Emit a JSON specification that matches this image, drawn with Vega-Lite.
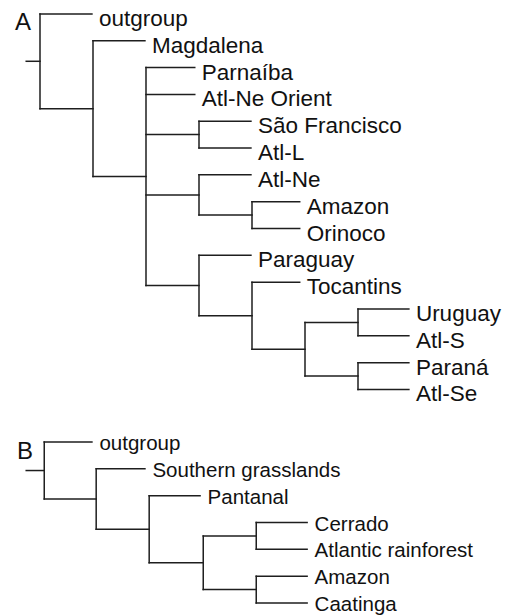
{
  "$schema": "https://vega.github.io/schema/vega-lite/v6.json",
  "width": 511,
  "height": 616,
  "autosize": {"type": "fit", "contains": "padding"},
  "padding": 0,
  "background": "white",
  "config": {"view": {"stroke": null}, "axis": {"domain": false, "grid": false, "ticks": false, "labels": false, "title": null}},
  "datasets": {
    "branches": [
      {"tree": "A", "x": -0.26, "x2": 0, "y": 1.766, "y2": 1.766},
      {"tree": "A", "x": 0, "x2": 0.98, "y": 0, "y2": 0},
      {"tree": "A", "x": 0, "x2": 1, "y": 3.531, "y2": 3.531},
      {"tree": "A", "x": 1, "x2": 1.98, "y": 1, "y2": 1},
      {"tree": "A", "x": 1, "x2": 2, "y": 6.0625, "y2": 6.0625},
      {"tree": "A", "x": 2, "x2": 2.92, "y": 2, "y2": 2},
      {"tree": "A", "x": 2, "x2": 2.92, "y": 3, "y2": 3},
      {"tree": "A", "x": 2, "x2": 3, "y": 4.5, "y2": 4.5},
      {"tree": "A", "x": 2, "x2": 3, "y": 6.75, "y2": 6.75},
      {"tree": "A", "x": 2, "x2": 3, "y": 10.125, "y2": 10.125},
      {"tree": "A", "x": 3, "x2": 3.98, "y": 4, "y2": 4},
      {"tree": "A", "x": 3, "x2": 3.98, "y": 5, "y2": 5},
      {"tree": "A", "x": 3, "x2": 3.98, "y": 6, "y2": 6},
      {"tree": "A", "x": 3, "x2": 4, "y": 7.5, "y2": 7.5},
      {"tree": "A", "x": 4, "x2": 4.9, "y": 7, "y2": 7},
      {"tree": "A", "x": 4, "x2": 4.9, "y": 8, "y2": 8},
      {"tree": "A", "x": 3, "x2": 3.98, "y": 9, "y2": 9},
      {"tree": "A", "x": 3, "x2": 4, "y": 11.25, "y2": 11.25},
      {"tree": "A", "x": 4, "x2": 4.9, "y": 10, "y2": 10},
      {"tree": "A", "x": 4, "x2": 5, "y": 12.5, "y2": 12.5},
      {"tree": "A", "x": 5, "x2": 6, "y": 11.5, "y2": 11.5},
      {"tree": "A", "x": 5, "x2": 6, "y": 13.5, "y2": 13.5},
      {"tree": "A", "x": 6, "x2": 6.96, "y": 11, "y2": 11},
      {"tree": "A", "x": 6, "x2": 6.96, "y": 12, "y2": 12},
      {"tree": "A", "x": 6, "x2": 6.96, "y": 13, "y2": 13},
      {"tree": "A", "x": 6, "x2": 6.96, "y": 14, "y2": 14},
      {"tree": "A", "x": 0, "x2": 0, "y": 0, "y2": 3.531},
      {"tree": "A", "x": 1, "x2": 1, "y": 1, "y2": 6.0625},
      {"tree": "A", "x": 2, "x2": 2, "y": 2, "y2": 10.125},
      {"tree": "A", "x": 3, "x2": 3, "y": 4, "y2": 5},
      {"tree": "A", "x": 3, "x2": 3, "y": 6, "y2": 7.5},
      {"tree": "A", "x": 4, "x2": 4, "y": 7, "y2": 8},
      {"tree": "A", "x": 3, "x2": 3, "y": 9, "y2": 11.25},
      {"tree": "A", "x": 4, "x2": 4, "y": 10, "y2": 12.5},
      {"tree": "A", "x": 5, "x2": 5, "y": 11.5, "y2": 13.5},
      {"tree": "A", "x": 6, "x2": 6, "y": 11, "y2": 12},
      {"tree": "A", "x": 6, "x2": 6, "y": 13, "y2": 14},
      {"tree": "B", "x": -0.26, "x2": 0.08, "y": 17.0225, "y2": 17.0225},
      {"tree": "B", "x": 0.08, "x2": 0.98, "y": 15.96, "y2": 15.96},
      {"tree": "B", "x": 0.08, "x2": 1.06, "y": 18.085, "y2": 18.085},
      {"tree": "B", "x": 1.06, "x2": 1.98, "y": 16.96, "y2": 16.96},
      {"tree": "B", "x": 1.06, "x2": 2.06, "y": 19.21, "y2": 19.21},
      {"tree": "B", "x": 2.06, "x2": 3.02, "y": 17.96, "y2": 17.96},
      {"tree": "B", "x": 2.06, "x2": 3.08, "y": 20.46, "y2": 20.46},
      {"tree": "B", "x": 3.08, "x2": 4.08, "y": 19.46, "y2": 19.46},
      {"tree": "B", "x": 3.08, "x2": 4.08, "y": 21.46, "y2": 21.46},
      {"tree": "B", "x": 4.08, "x2": 5.04, "y": 18.96, "y2": 18.96},
      {"tree": "B", "x": 4.08, "x2": 5.04, "y": 19.96, "y2": 19.96},
      {"tree": "B", "x": 4.08, "x2": 5.04, "y": 20.96, "y2": 20.96},
      {"tree": "B", "x": 4.08, "x2": 5.04, "y": 21.96, "y2": 21.96},
      {"tree": "B", "x": 0.08, "x2": 0.08, "y": 15.96, "y2": 18.085},
      {"tree": "B", "x": 1.06, "x2": 1.06, "y": 16.96, "y2": 19.21},
      {"tree": "B", "x": 2.06, "x2": 2.06, "y": 17.96, "y2": 20.46},
      {"tree": "B", "x": 3.08, "x2": 3.08, "y": 19.46, "y2": 21.46},
      {"tree": "B", "x": 4.08, "x2": 4.08, "y": 18.96, "y2": 19.96},
      {"tree": "B", "x": 4.08, "x2": 4.08, "y": 20.96, "y2": 21.96}
    ],
    "tips": [
      {"tree": "A", "name": "outgroup", "x": 0.98, "y": 0},
      {"tree": "A", "name": "Magdalena", "x": 1.98, "y": 1},
      {"tree": "A", "name": "Parnaíba", "x": 2.92, "y": 2},
      {"tree": "A", "name": "Atl-Ne Orient", "x": 2.92, "y": 3},
      {"tree": "A", "name": "São Francisco", "x": 3.98, "y": 4},
      {"tree": "A", "name": "Atl-L", "x": 3.98, "y": 5},
      {"tree": "A", "name": "Atl-Ne", "x": 3.98, "y": 6},
      {"tree": "A", "name": "Amazon", "x": 4.9, "y": 7},
      {"tree": "A", "name": "Orinoco", "x": 4.9, "y": 8},
      {"tree": "A", "name": "Paraguay", "x": 3.98, "y": 9},
      {"tree": "A", "name": "Tocantins", "x": 4.9, "y": 10},
      {"tree": "A", "name": "Uruguay", "x": 6.96, "y": 11},
      {"tree": "A", "name": "Atl-S", "x": 6.96, "y": 12},
      {"tree": "A", "name": "Paraná", "x": 6.96, "y": 13},
      {"tree": "A", "name": "Atl-Se", "x": 6.96, "y": 14},
      {"tree": "B", "name": "outgroup", "x": 0.98, "y": 15.96},
      {"tree": "B", "name": "Southern grasslands", "x": 1.98, "y": 16.96},
      {"tree": "B", "name": "Pantanal", "x": 3.02, "y": 17.96},
      {"tree": "B", "name": "Cerrado", "x": 5.04, "y": 18.96},
      {"tree": "B", "name": "Atlantic rainforest", "x": 5.04, "y": 19.96},
      {"tree": "B", "name": "Amazon", "x": 5.04, "y": 20.96},
      {"tree": "B", "name": "Caatinga", "x": 5.04, "y": 21.96}
    ],
    "panels": [
      {"label": "A", "x": -0.47, "y": 0.593},
      {"label": "B", "x": -0.434, "y": 16.59}
    ]
  },
  "layer": [
    {
      "data": {"name": "branches"},
      "mark": {"type": "rule", "color": "#1e1e1e", "strokeWidth": 1.5, "strokeCap": "square"},
      "encoding": {
        "x": {"field": "x", "type": "quantitative", "scale": {"domain": [-0.75472, 8.88679], "nice": false, "zero": false}, "axis": null},
        "x2": {"field": "x2"},
        "y": {"field": "y", "type": "quantitative", "scale": {"domain": [-0.51852, 22.2963], "nice": false, "zero": false, "reverse": true}, "axis": null},
        "y2": {"field": "y2"}
      }
    },
    {
      "data": {"name": "tips"},
      "transform": [{"filter": "datum.tree === 'A'"}],
      "mark": {"type": "text", "align": "left", "baseline": "alphabetic", "dx": 7, "dy": 12, "font": "Liberation Sans", "fontSize": 22.5, "color": "#111111"},
      "encoding": {
        "x": {"field": "x", "type": "quantitative"},
        "y": {"field": "y", "type": "quantitative"},
        "text": {"field": "name"}
      }
    },
    {
      "data": {"name": "tips"},
      "transform": [{"filter": "datum.tree === 'B'"}],
      "mark": {"type": "text", "align": "left", "baseline": "alphabetic", "dx": 7.5, "dy": 8, "font": "Liberation Sans", "fontSize": 20.5, "color": "#111111"},
      "encoding": {
        "x": {"field": "x", "type": "quantitative"},
        "y": {"field": "y", "type": "quantitative"},
        "text": {"field": "name"}
      }
    },
    {
      "data": {"name": "panels"},
      "mark": {"type": "text", "align": "left", "baseline": "alphabetic", "font": "Liberation Sans", "fontSize": 24, "color": "#111111"},
      "encoding": {
        "x": {"field": "x", "type": "quantitative"},
        "y": {"field": "y", "type": "quantitative"},
        "text": {"field": "label"}
      }
    }
  ]
}
